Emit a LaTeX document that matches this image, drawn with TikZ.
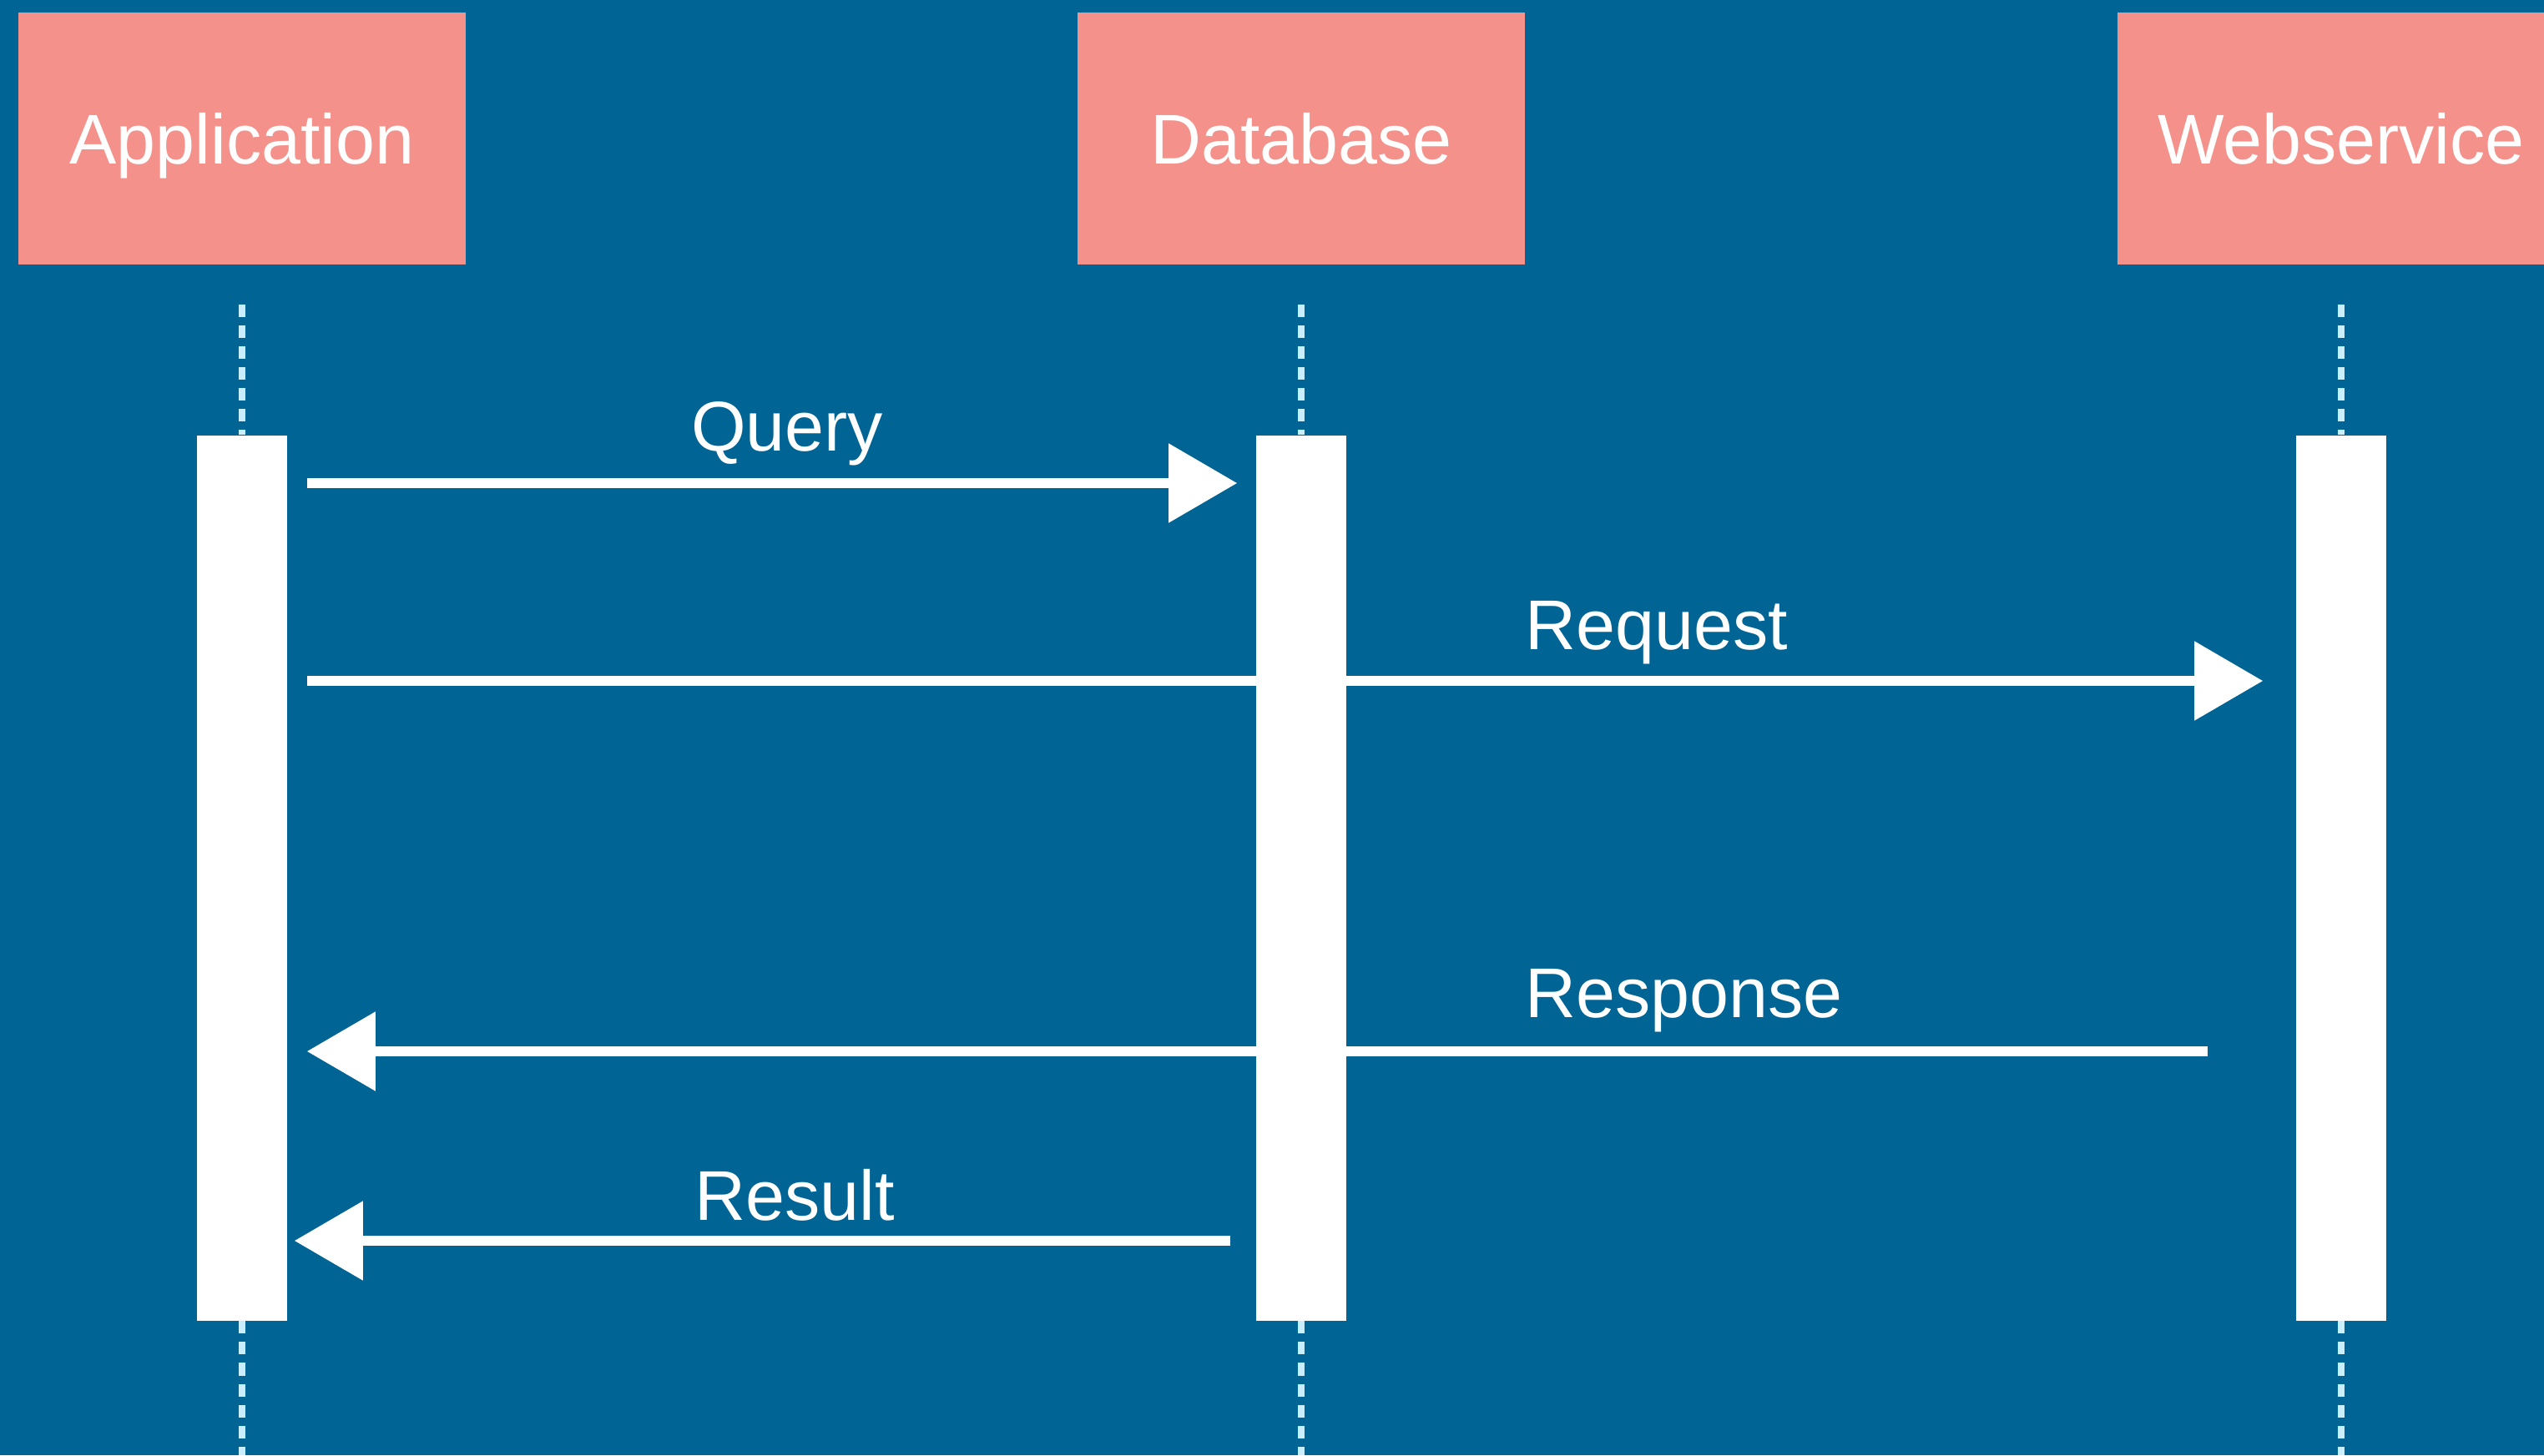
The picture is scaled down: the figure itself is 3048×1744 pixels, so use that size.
\documentclass[tikz,border=0pt]{standalone}
\usepackage{fontspec}
\setmainfont{Liberation Sans}
\usetikzlibrary{positioning,arrows.meta}
\definecolor{seqblue}{RGB}{0,100,149}
\definecolor{seqsalmon}{RGB}{243,145,138}
\definecolor{seqdash}{RGB}{200,238,255}
\tikzset{
	header/.style={fill=seqsalmon, minimum width=5.36cm, minimum height=3.01cm, text=white, text height=17.5pt, text depth=0pt, font=\fontsize{24}{28}\selectfont},
	actbar/.style={fill=white, minimum width=1.08cm, minimum height=10.6cm, inner sep=0pt},
	lifeline/.style={seqdash, line width=0.8mm, dash pattern=on 1.5mm off 1mm},
	msg/.style={white, line width=1.2mm, -{Triangle[length=8.2mm, width=9.2mm]}},
	msglabel/.style={text=white, font=\fontsize{24}{28}\selectfont, inner sep=0pt}
}

\begin{document}
\begin{tikzpicture}[x=0.01cm, y=-0.01cm]
		%%%%% START %%%%%
		
		\path[use as bounding box, fill=seqblue] (0, 0) rectangle (3048, 1744);
		
		\node[header] (app) at (290, 166) {Application};
		\node[header] (db) at (1559, 166) {Database};
		\node[header] (ws) at (2805, 166) {Webservice};
		
		\node[actbar, below=2.04cm of app] (appbar) {};
		\node[actbar, below=2.04cm of db] (dbbar) {};
		\node[actbar, below=2.04cm of ws] (wsbar) {};
		
		\draw[lifeline] ([yshift=-4.8mm]app.south) -- (appbar.north);
		\draw[lifeline] (appbar.south) -- (app.south |- 0,1744);
		\draw[lifeline] ([yshift=-4.8mm]db.south) -- (dbbar.north);
		\draw[lifeline] (dbbar.south) -- (db.south |- 0,1744);
		\draw[lifeline] ([yshift=-4.8mm]ws.south) -- (wsbar.north);
		\draw[lifeline] (wsbar.south) -- (ws.south |- 0,1744);
		
		\draw[msg, shorten <=2.3mm, shorten >=2.2mm] (appbar.east |- 0,579) -- (dbbar.west |- 0,579);
		\node[msglabel, anchor=base] (query) at (943, 540) {Query};
		
		\draw[msg, shorten <=2.3mm, shorten >=3.9mm] (appbar.east |- 0,816) -- (wsbar.west |- 0,816);
		\node[msglabel, anchor=base west] (request) at (1827, 778) {Request};
		
		\draw[msg, shorten <=10.5mm, shorten >=2.3mm] (wsbar.west |- 0,1260) -- (appbar.east |- 0,1260);
		\node[msglabel, anchor=base west] (response) at (1827, 1219) {Response};
		
		\draw[msg, shorten <=3mm, shorten >=0.8mm] (dbbar.west |- 0,1487) -- (appbar.east |- 0,1487);
		\node[msglabel, anchor=base] (result) at (952, 1462) {Result};
		
		%%%%% END %%%%%
\end{tikzpicture}
\end{document}
